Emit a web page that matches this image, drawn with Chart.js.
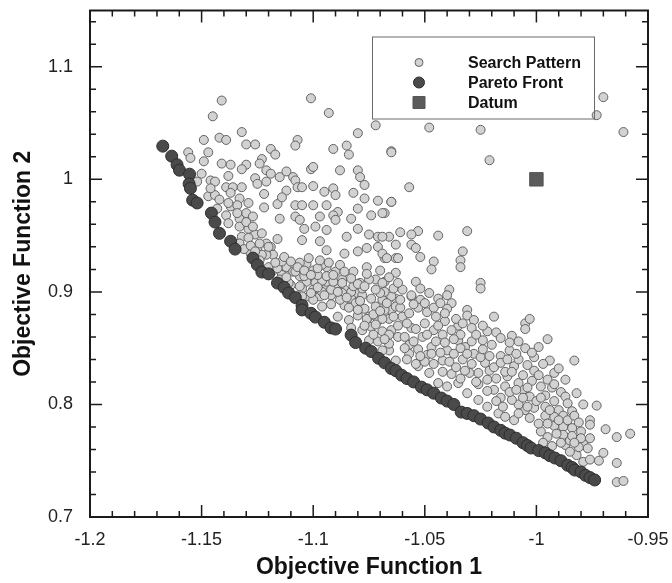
<!DOCTYPE html>
<html>
<head>
<meta charset="utf-8">
<script src="https://cdn.jsdelivr.net/npm/chart.js@4.4.0/dist/chart.umd.min.js"></script>
<style>
html, body { margin: 0; padding: 0; background: #fff; }
</style>
</head>
<body>
<canvas id="mycanvas" width="672" height="583"></canvas>
<script>
// tick labels
var xTicks = [-1.2, -1.15, -1.1, -1.05, -1, -0.95];
var yTicks = [0.7, 0.8, 0.9, 1, 1.1];

// search pattern (objective 1, objective 2)
var searchPattern = [
  [-1.141,1.070],[-1.101,1.072],[-1.145,1.056],[-1.093,1.059],[-1.072,1.048],[-1.080,1.041],[-1.132,1.042],
  [-1.149,1.035],[-1.142,1.037],[-1.139,1.035],[-1.130,1.031],[-1.126,1.031],[-1.119,1.027],[-1.117,1.022],
  [-1.107,1.035],[-1.108,1.030],[-1.091,1.027],[-1.085,1.030],[-1.084,1.022],[-1.065,1.025],[-1.156,1.024],
  [-1.155,1.019],[-1.147,1.024],[-1.149,1.016],[-1.141,1.014],[-1.137,1.013],[-1.138,1.003],[-1.130,1.013],
  [-1.132,1.009],[-1.123,1.018],[-1.124,1.014],[-1.121,1.008],[-1.119,1.005],[-1.115,1.002],[-1.112,1.007],
  [-1.109,1.002],[-1.108,0.999],[-1.101,1.009],[-1.100,1.011],[-1.088,1.008],[-1.080,1.008],[-1.079,1.002],
  [-1.077,0.995],[-1.152,0.998],[-1.146,0.999],[-1.144,0.998],[-1.139,0.993],[-1.136,0.993],[-1.132,0.993],
  [-1.126,1.001],[-1.125,0.996],[-1.121,0.998],[-1.122,0.987],[-1.112,0.990],[-1.107,0.993],[-1.105,0.993],
  [-1.100,0.994],[-1.095,0.989],[-1.091,0.992],[-1.090,0.986],[-1.082,0.988],[-1.077,0.983],[-1.071,0.981],
  [-1.065,0.980],[-1.147,0.985],[-1.144,0.986],[-1.137,0.988],[-1.133,0.983],[-1.129,0.979],[-1.137,0.976],
  [-1.134,0.977],[-1.122,0.975],[-1.116,0.978],[-1.114,0.984],[-1.108,0.977],[-1.105,0.977],[-1.100,0.977],
  [-1.094,0.977],[-1.097,0.967],[-1.089,0.971],[-1.091,0.968],[-1.083,0.965],[-1.080,0.974],[-1.074,0.968],
  [-1.068,0.970],[-1.143,0.974],[-1.139,0.968],[-1.133,0.965],[-1.130,0.970],[-1.127,0.967],[-1.115,0.965],
  [-1.108,0.967],[-1.106,0.964],[-1.104,0.956],[-1.099,0.958],[-1.094,0.955],[-1.090,0.964],[-1.085,0.949],
  [-1.080,0.956],[-1.075,0.951],[-1.071,0.949],[-1.066,0.949],[-1.063,0.942],[-1.138,0.961],[-1.133,0.958],
  [-1.129,0.956],[-1.126,0.951],[-1.132,0.949],[-1.121,0.943],[-1.119,0.940],[-1.118,0.933],[-1.105,0.946],
  [-1.097,0.945],[-1.094,0.937],[-1.086,0.934],[-1.080,0.936],[-1.076,0.939],[-1.071,0.940],[-1.068,0.930],
  [-1.063,0.930],[-1.076,0.922],[-1.072,0.911],[-1.068,0.909],[-1.079,0.908],[-1.103,0.925],[-1.100,0.919],
  [-1.094,0.922],[-1.090,0.918],[-1.087,0.911],[-1.112,0.922],[-1.109,0.918],[-1.106,0.914],[-1.103,0.909],
  [-1.099,0.911],[-1.094,0.905],[-1.090,0.903],[-1.086,0.902],[-1.081,0.899],[-1.102,0.896],[-1.097,0.896],
  [-1.092,0.897],[-1.083,0.894],[-1.114,0.915],[-1.110,0.906],[-1.105,0.903],[-1.121,0.933],[-1.125,0.939],
  [-1.129,0.948],[-1.124,0.943],
  [-0.970,1.073],[-0.973,1.057],[-0.961,1.042],[-1.048,1.046],[-1.025,1.044],[-1.065,1.024],[-1.021,1.017],
  [-1.057,0.993],[-1.065,0.980],[-1.069,0.970],[-1.061,0.953],[-1.053,0.954],[-1.056,0.951],[-1.044,0.950],
  [-1.031,0.954],[-1.069,0.949],[-1.056,0.942],[-1.054,0.939],[-1.052,0.931],[-1.069,0.934],[-1.067,0.930],
  [-1.062,0.930],[-1.046,0.927],[-1.047,0.920],[-1.033,0.936],[-1.034,0.928],[-1.034,0.922],[-1.063,0.917],
  [-1.069,0.908],[-1.054,0.909],[-1.052,0.903],[-1.025,0.908],[-1.025,0.903],[-1.039,0.902],[-1.040,0.897],
  [-1.056,0.896],[-1.063,0.894],
  [-1.038,0.890],[-1.040,0.885],[-1.031,0.884],[-1.031,0.879],[-1.028,0.875],[-1.019,0.878],[-1.005,0.872],
  [-1.003,0.876],[-1.005,0.867],[-1.035,0.870],[-1.029,0.868],[-1.022,0.865],[-1.018,0.864],[-1.016,0.859],
  [-1.011,0.861],[-1.008,0.856],[-0.999,0.851],[-0.995,0.858],[-0.983,0.839],[-0.994,0.839],[-1.001,0.842],
  [-0.992,0.828],[-0.987,0.822],[-0.993,0.815],[-0.989,0.811],[-0.987,0.807],[-0.986,0.801],[-0.982,0.810],
  [-0.979,0.800],[-0.973,0.799],[-0.984,0.794],[-0.990,0.795],[-0.992,0.789],[-0.976,0.786],[-0.976,0.782],
  [-0.980,0.776],[-0.984,0.779],[-0.969,0.778],[-0.964,0.771],[-0.958,0.774],[-0.987,0.764],[-0.985,0.768],
  [-0.982,0.755],[-0.979,0.765],[-0.977,0.761],[-0.979,0.749],[-0.976,0.751],[-0.964,0.748],[-0.964,0.731],
  [-0.961,0.732],[-0.995,0.771],[-0.993,0.763],[-0.998,0.776],[-0.999,0.783],[-1.003,0.788],[-1.005,0.795],
  [-1.008,0.800],[-1.011,0.804],[-1.001,0.797],[-1.003,0.807],[-1.006,0.813],[-1.008,0.819],[-1.013,0.825],
  [-1.014,0.816],[-1.019,0.813],[-1.022,0.822],[-1.026,0.828],[-1.023,0.837],[-1.028,0.845],[-1.032,0.851],
  [-1.035,0.857],[-1.040,0.848],[-1.042,0.839],[-1.047,0.851],[-1.051,0.860],[-1.056,0.868],[-1.060,0.878],
  [-1.065,0.884],[-1.069,0.890],[-1.062,0.860],[-1.066,0.848],[-1.057,0.845],[-1.053,0.834],[-1.048,0.828],
  [-1.044,0.819],[-1.040,0.816],[-1.035,0.819],[-1.031,0.810],[-1.026,0.804],[-1.022,0.798],[-1.017,0.792],
  [-1.014,0.789],[-1.010,0.786],
  [-1.123,0.933],[-1.096,0.924],[-1.075,0.911],[-1.106,0.905],[-1.099,0.908],[-1.094,0.909],[-1.087,0.908],
  [-1.105,0.896],[-1.100,0.893],[-1.096,0.900],[-1.092,0.889],[-1.087,0.899],[-1.083,0.900],[-1.078,0.897],
  [-1.074,0.894],[-1.069,0.893],[-1.065,0.896],[-1.096,0.887],[-1.086,0.888],[-1.081,0.890],[-1.077,0.885],
  [-1.072,0.887],[-1.068,0.884],[-1.063,0.887],[-1.089,0.878],[-1.084,0.875],[-1.080,0.879],[-1.075,0.878],
  [-1.071,0.874],[-1.066,0.876],[-1.083,0.868],[-1.078,0.866],[-1.074,0.869],[-1.069,0.865],[-1.065,0.866],
  [-1.075,0.857],[-1.071,0.856],[-1.066,0.854],[-1.069,0.848],[-1.063,0.839],[-1.118,0.919],[-1.115,0.911],
  [-1.111,0.908],
  [-1.068,0.900],[-1.064,0.903],[-1.060,0.902],[-1.056,0.897],[-1.052,0.893],[-1.048,0.899],[-1.044,0.894],
  [-1.061,0.886],[-1.057,0.881],[-1.053,0.886],[-1.049,0.882],[-1.045,0.878],[-1.041,0.874],[-1.069,0.876],
  [-1.058,0.872],[-1.054,0.867],[-1.050,0.872],[-1.046,0.866],[-1.042,0.862],[-1.038,0.866],[-1.034,0.862],
  [-1.066,0.862],[-1.057,0.853],[-1.053,0.849],[-1.049,0.844],[-1.045,0.856],[-1.041,0.855],[-1.037,0.845],
  [-1.033,0.840],[-1.029,0.836],[-1.025,0.842],[-1.058,0.840],[-1.054,0.836],[-1.050,0.838],[-1.046,0.836],
  [-1.042,0.829],[-1.038,0.827],[-1.034,0.823],[-1.030,0.828],[-1.026,0.818],[-1.022,0.812],[-1.018,0.823],
  [-1.014,0.829],[-1.010,0.834],[-1.006,0.826],[-1.002,0.821],[-0.998,0.816],[-1.016,0.843],[-1.012,0.848],
  [-1.008,0.840],[-1.004,0.835],[-1.020,0.853],[-1.024,0.857],[-1.016,0.806],[-1.012,0.811],[-1.008,0.792],
  [-1.004,0.798],[-1.000,0.803],[-0.996,0.808],[-0.996,0.798],[-0.992,0.803],[-0.988,0.790],[-0.996,0.790],
  [-0.992,0.781],[-0.988,0.780],[-0.984,0.772],[-0.980,0.770],[-0.976,0.770],[-0.988,0.773],[-0.981,0.762],
  [-0.972,0.750],[-0.970,0.757],
  [-1.150,1.005],[-1.146,0.992],[-1.142,0.982],[-1.138,0.979],[-1.134,0.970],[-1.130,0.962],[-1.127,0.958],
  [-1.123,0.952],[-1.120,0.940],[-1.116,0.947],[-1.128,0.934],[-1.124,0.928],[-1.120,0.922],[-1.116,0.921],
  [-1.112,0.913],[-1.108,0.918],[-1.104,0.914],[-1.100,0.902],[-1.096,0.910],[-1.092,0.902],[-1.088,0.893],
  [-1.084,0.886],[-1.080,0.884],[-1.076,0.876],[-1.072,0.871],[-1.068,0.858],[-1.114,0.927],[-1.106,0.926],
  [-1.098,0.915],[-1.094,0.914],[-1.082,0.905],[-1.078,0.903],[-1.070,0.899],[-1.088,0.924],[-1.082,0.918],
  [-1.076,0.916],[-1.070,0.919],[-1.066,0.913],[-1.062,0.908],
  [-1.117,0.926],[-1.113,0.931],[-1.110,0.927],[-1.107,0.922],[-1.104,0.919],[-1.101,0.915],[-1.098,0.921],
  [-1.102,0.930],[-1.097,0.928],[-1.093,0.926],[-1.101,0.899],[-1.098,0.904],[-1.095,0.897],[-1.091,0.909],
  [-1.089,0.900],[-1.085,0.895],[-1.083,0.912],[-1.080,0.907],[-1.091,0.915],[-1.086,0.918],[-1.079,0.892],
  [-1.077,0.870],[-1.073,0.880],[-1.070,0.883],[-1.067,0.890],[-1.064,0.878],[-1.062,0.870],[-1.061,0.893],
  [-1.073,0.862],[-1.077,0.905],[-1.072,0.902],[-1.059,0.860],[-1.055,0.856],[-1.052,0.843],[-1.049,0.862],
  [-1.047,0.845],[-1.044,0.870],[-1.043,0.846],[-1.041,0.881],[-1.059,0.850],[-1.055,0.889],[-1.050,0.890],
  [-1.046,0.886],[-1.043,0.890],[-1.039,0.838],[-1.036,0.833],[-1.032,0.830],[-1.037,0.858],[-1.034,0.850],
  [-1.031,0.845],[-1.029,0.856],[-1.027,0.862],[-1.024,0.849],[-1.021,0.843],[-1.021,0.830],[-1.027,0.820],
  [-1.036,0.876],[-1.033,0.872],[-1.024,0.870],[-1.019,0.833],[-1.016,0.837],[-1.013,0.840],[-1.011,0.829],
  [-1.009,0.813],[-1.006,0.806],[-1.018,0.803],[-1.015,0.798],[-1.005,0.850],[-1.002,0.846],[-1.012,0.855],
  [-1.009,0.845],[-1.001,0.830],[-1.004,0.815],[-0.999,0.826],[-0.997,0.836],[-0.995,0.822],[-0.992,0.818],
  [-0.990,0.832],[-0.998,0.806],[-0.994,0.795],[-0.990,0.786],[-0.986,0.786],[-0.983,0.790],[-0.981,0.784],
  [-0.995,0.783],[-0.991,0.774],[-0.989,0.766],[-0.985,0.758],[-0.983,0.766],[-0.997,0.766],[-1.133,0.943],
  [-1.131,0.938],[-1.128,0.941],[-1.126,0.936]
];

// pareto front (objective 1, objective 2)
var paretoFront = [
  [-1.1674,1.0295],[-1.1634,1.0206],[-1.1610,1.0130],[-1.1599,1.0081],[-1.1554,1.0046],[-1.1556,0.9960],
  [-1.1550,0.9920],[-1.1540,0.9815],[-1.1520,0.9790],[-1.1456,0.9700],[-1.1440,0.9620],[-1.1420,0.9520],
  [-1.1370,0.9450],[-1.1350,0.9380],[-1.1270,0.9300],[-1.1250,0.9240],[-1.1230,0.9176],[-1.1200,0.9160],
  [-1.1160,0.9078],[-1.1130,0.9040],[-1.1110,0.8990],[-1.1080,0.8950],[-1.1050,0.8880],[-1.1050,0.8840],
  [-1.1010,0.8810],[-1.0990,0.8776],[-1.0950,0.8730],[-1.0920,0.8680],[-1.0900,0.8670],[-1.0830,0.8616],
  [-1.0810,0.8550],[-1.0765,0.8500],[-1.0740,0.8470],[-1.0707,0.8410],[-1.0680,0.8370],[-1.0650,0.8320],
  [-1.0630,0.8300],[-1.0604,0.8260],[-1.0580,0.8230],[-1.0550,0.8200],[-1.0515,0.8154],[-1.0490,0.8130],
  [-1.0460,0.8100],[-1.0426,0.8057],[-1.0400,0.8030],[-1.0370,0.8000],[-1.0337,0.7932],[-1.0310,0.7920],
  [-1.0280,0.7900],[-1.0250,0.7870],[-1.0216,0.7835],[-1.0190,0.7800],[-1.0160,0.7770],[-1.0140,0.7745],
  [-1.0118,0.7728],[-1.0090,0.7700],[-1.0060,0.7660],[-1.0040,0.7635],[-1.0024,0.7613],[-0.9990,0.7590],
  [-0.9960,0.7570],[-0.9940,0.7545],[-0.9917,0.7524],[-0.9890,0.7500],[-0.9860,0.7460],[-0.9840,0.7440],
  [-0.9828,0.7417],[-0.9800,0.7400],[-0.9780,0.7370],[-0.9760,0.7350],[-0.9739,0.7329]
];

var datum = [[-1, 1]];

var seriesNames = ['Search Pattern', 'Pareto Front', 'Datum'];

var fontFamily = "'Liberation Sans', Arial, Helvetica, sans-serif";

function toXY(arr) {
  return arr.map(function (p) { return { x: p[0], y: p[1] }; });
}

function fmt(v) {
  return String(+(+v).toFixed(2));
}

// box round the plot with inward ticks on all four sides
var framePlugin = {
  id: 'frame',
  afterDraw: function (chart) {
    var ctx = chart.ctx;
    var a = chart.chartArea;
    var xs = chart.scales.x, ys = chart.scales.y;
    ctx.save();
    ctx.strokeStyle = '#1b1b1b';
    ctx.lineWidth = 2;
    ctx.strokeRect(a.left, a.top, a.right - a.left, a.bottom - a.top);
    ctx.lineWidth = 1.5;
    ctx.beginPath();
    for (var i = 1; i < 25; i++) {
      var px = xs.getPixelForValue(-1.2 + i * 0.01);
      var len = (i % 5 === 0) ? 12 : 6;
      ctx.moveTo(px, a.bottom); ctx.lineTo(px, a.bottom - len);
      ctx.moveTo(px, a.top); ctx.lineTo(px, a.top + len);
    }
    for (var j = 1; j <= 22; j++) {
      var py = ys.getPixelForValue(0.7 + j * 0.02);
      var l2 = (j % 5 === 0) ? 12 : 6;
      ctx.moveTo(a.left, py); ctx.lineTo(a.left + l2, py);
      ctx.moveTo(a.right, py); ctx.lineTo(a.right - l2, py);
    }
    ctx.stroke();
    ctx.restore();
  }
};

// boxed legend inside the plot, upper right
var legendPlugin = {
  id: 'boxLegend',
  afterDraw: function (chart) {
    var ctx = chart.ctx;
    var a = chart.chartArea;
    var bx = a.left + 282, by = a.top + 26, bw = 222, bh = 82;
    ctx.save();
    ctx.strokeStyle = '#6a6a6a';
    ctx.lineWidth = 1;
    ctx.strokeRect(bx + 0.5, by + 0.5, bw, bh);
    ctx.font = 'bold 16px ' + fontFamily;
    ctx.textBaseline = 'middle';
    ctx.textAlign = 'left';
    chart.data.datasets.forEach(function (ds, i) {
      var cy = by + 26 + i * 20;
      ctx.fillStyle = ds.backgroundColor;
      ctx.strokeStyle = ds.borderColor;
      ctx.lineWidth = ds.borderWidth;
      Chart.helpers.drawPoint(ctx, {
        pointStyle: ds.pointStyle,
        radius: ds.legendRadius,
        borderWidth: ds.borderWidth,
        rotation: 0
      }, bx + 47, cy);
      ctx.fillStyle = '#111';
      ctx.fillText(ds.label, bx + 96, cy + 1);
    });
    ctx.restore();
  }
};

var chartdata = {
  datasets: [
    {
      label: seriesNames[0],
      data: toXY(searchPattern),
      pointStyle: 'circle',
      radius: 4.5,
      legendRadius: 4,
      backgroundColor: '#d2d2d2',
      borderColor: '#626262',
      borderWidth: 1,
      order: 3
    },
    {
      label: seriesNames[1],
      data: toXY(paretoFront),
      pointStyle: 'circle',
      radius: 6,
      legendRadius: 5.5,
      backgroundColor: '#4a4a4a',
      borderColor: '#2e2e2e',
      borderWidth: 1,
      order: 2
    },
    {
      label: seriesNames[2],
      data: toXY(datum),
      pointStyle: 'rect',
      radius: 9.5,
      legendRadius: 8.5,
      backgroundColor: '#5b5b5b',
      borderColor: '#555',
      borderWidth: 1,
      order: 1
    }
  ]
};

var ctx = document.getElementById('mycanvas');

var ScatterGraph = new Chart(ctx, {
  type: 'scatter',
  data: chartdata,
  options: {
    responsive: false,
    animation: false,
    devicePixelRatio: 1,
    layout: { padding: { left: 0, right: 24, top: 9, bottom: 0 } },
    plugins: {
      legend: { display: false },
      tooltip: { enabled: false }
    },
    scales: {
      x: {
        type: 'linear',
        min: -1.2,
        max: -0.95,
        grid: { display: false },
        border: { display: false },
        afterBuildTicks: function (scale) {
          scale.ticks = xTicks.map(function (v) { return { value: v }; });
        },
        afterFit: function (scale) {
          scale.height = 66;
          scale.paddingLeft = 0;
          scale.paddingRight = 0;
        },
        ticks: {
          autoSkip: false,
          maxRotation: 0,
          padding: 4,
          color: '#222',
          font: { family: fontFamily, size: 18 },
          callback: function (v) { return fmt(v); }
        },
        title: {
          display: true,
          text: 'Objective Function 1',
          color: '#111',
          font: { family: fontFamily, size: 23, weight: 'bold' },
          padding: { top: 0, bottom: 2 }
        }
      },
      y: {
        type: 'linear',
        min: 0.7,
        max: 1.15,
        grid: { display: false },
        border: { display: false },
        afterBuildTicks: function (scale) {
          scale.ticks = yTicks.map(function (v) { return { value: v }; });
        },
        afterFit: function (scale) {
          scale.width = 90;
          scale.paddingTop = 0;
          scale.paddingBottom = 0;
        },
        ticks: {
          autoSkip: false,
          padding: 9,
          color: '#222',
          font: { family: fontFamily, size: 18 },
          callback: function (v) { return fmt(v); }
        },
        title: {
          display: true,
          text: 'Objective Function 2',
          color: '#111',
          font: { family: fontFamily, size: 23, weight: 'bold' },
          padding: { top: 10, bottom: 0 }
        }
      }
    }
  },
  plugins: [framePlugin, legendPlugin]
});
</script>
</body>
</html>
